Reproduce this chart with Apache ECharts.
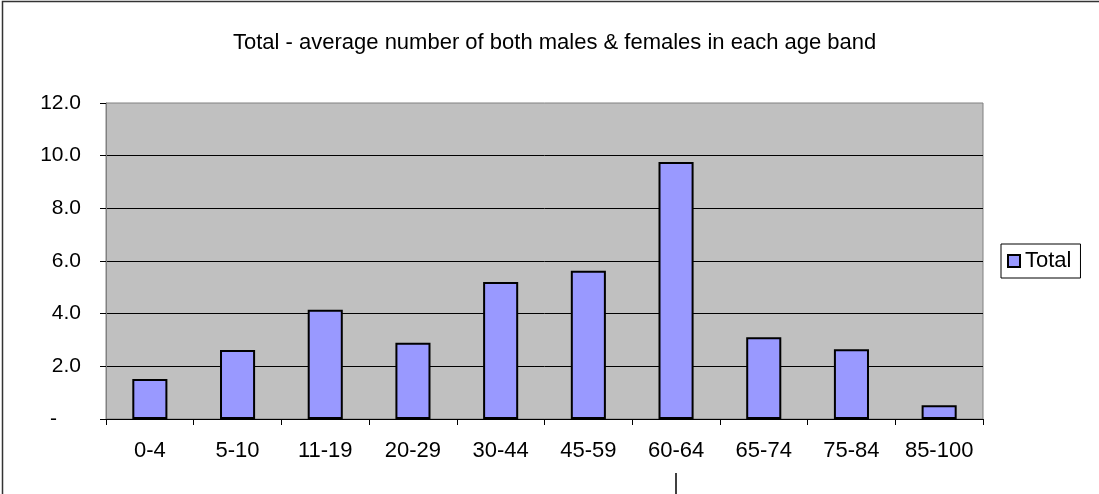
<!DOCTYPE html>
<html>
<head>
<meta charset="utf-8">
<script src="https://cdn.jsdelivr.net/npm/echarts@6/dist/echarts.min.js"></script>
<style>
html,body{margin:0;padding:0;background:#fff;}
#chart{width:1099px;height:494px;}
</style>
</head>
<body>
<div id="chart"></div>
<script>
var titleText = 'Total - average number of both males & females in each age band';
var categories = ['0-4', '5-10', '11-19', '20-29', '30-44', '45-59', '60-64', '65-74', '75-84', '85-100'];
var seriesName = 'Total';
var totalValues = [1.52, 2.62, 4.15, 2.9, 5.2, 5.63, 9.76, 3.1, 2.65, 0.52];
var yMin = 0, yMax = 12, yStep = 2;

var FONT = "'Liberation Sans', Arial, sans-serif";
var chart = echarts.init(document.getElementById('chart'));
chart.setOption({
  animation: false,
  backgroundColor: '#ffffff',
  textStyle: { fontFamily: FONT, color: '#000' },
  title: {
    text: titleText,
    left: 228,
    top: 27,
    textStyle: { fontFamily: FONT, fontSize: 22, fontWeight: 'normal', color: '#000' }
  },
  legend: {
    data: [seriesName],
    left: 1001,
    top: 244,
    orient: 'vertical',
    backgroundColor: '#fff',
    borderColor: '#000',
    borderWidth: 1,
    padding: [6, 9, 6, 6],
    icon: 'rect',
    itemWidth: 12,
    itemHeight: 12,
    textStyle: { fontFamily: FONT, fontSize: 22, color: '#000' }
  },
  grid: {
    left: 106, top: 103, right: 116, bottom: 75,
    show: true,
    backgroundColor: '#C0C0C0',
    borderColor: '#808080',
    borderWidth: 1
  },
  xAxis: {
    type: 'category',
    data: categories,
    boundaryGap: true,
    axisLine: { lineStyle: { color: '#000', width: 1 } },
    axisTick: { show: true, length: 6, alignWithLabel: false, lineStyle: { color: '#000' } },
    axisLabel: { fontFamily: FONT, fontSize: 22, color: '#000', margin: 21, interval: 0 }
  },
  yAxis: {
    type: 'value',
    min: yMin, max: yMax, interval: yStep,
    axisLine: { show: true, lineStyle: { color: '#808080', width: 1 } },
    axisTick: { show: true, length: 6, lineStyle: { color: '#000' } },
    axisLabel: {
      fontFamily: FONT, fontSize: 21, color: '#000', margin: 25,
      formatter: function (v) { return v === 0 ? '{z|-}' : v.toFixed(1); },
      rich: { z: { fontFamily: FONT, fontSize: 21, color: '#000', padding: [0, 24, 0, 0] } }
    },
    splitLine: { show: true, showMinLine: false, showMaxLine: false, lineStyle: { color: '#000', width: 1 } }
  },
  series: [{
    name: seriesName,
    type: 'bar',
    data: totalValues,
    barWidth: '40%',
    itemStyle: { color: '#9999FF', borderColor: '#000', borderWidth: 2 }
  }],
  graphic: [
    { type: 'rect', silent: true, shape: { x: 2.5, y: 1.5, width: 1300, height: 800 },
      style: { fill: 'none', stroke: '#333', lineWidth: 1.5 } },
    { type: 'line', silent: true, shape: { x1: 676, y1: 473, x2: 676, y2: 494 },
      style: { stroke: '#000', lineWidth: 1.5 } }
  ]
});
</script>
</body>
</html>
